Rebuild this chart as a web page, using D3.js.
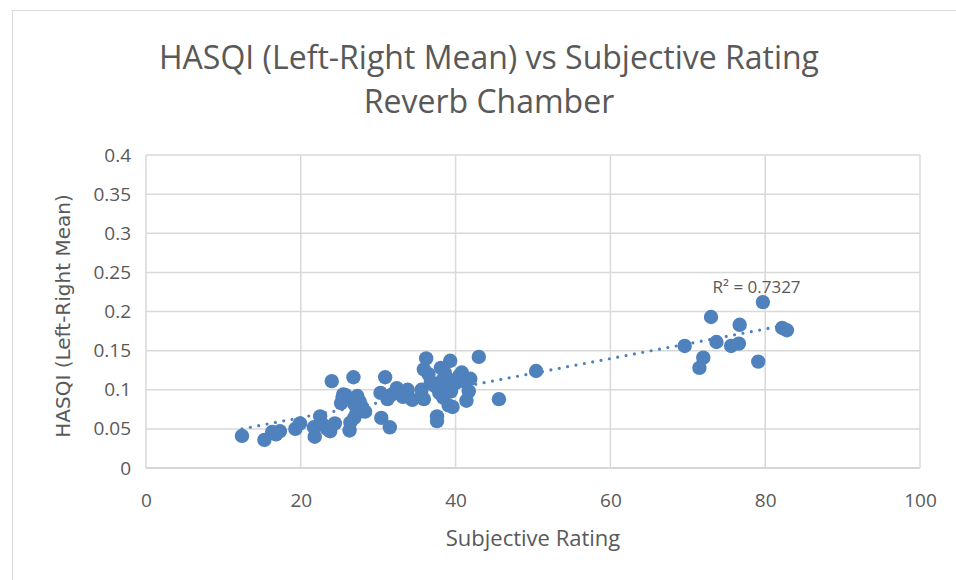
<!DOCTYPE html>
<html>
<head>
<meta charset="utf-8">
<script src="https://cdn.jsdelivr.net/npm/d3@7"></script>
<style>
  body { margin: 0; background: #fff; }
  text { font-family: "Open Sans", "Noto Sans", sans-serif; fill: #595959; }
</style>
</head>
<body>
<div id="canvas"></div>
<script>
"use strict";

let svgWidth = 956;
let svgHeight = 580;
let margin = { top: 155, right: 36, bottom: 112, left: 146 };

// subjective rating (x) and HASQI left-right mean (y)
let rating = [
  12.4, 15.3, 16.3, 16.8, 17.3, 19.3, 19.9, 21.8, 21.7, 22.5,
  22.9, 23.4, 23.8, 24.4, 24.0, 26.8, 26.3, 26.4, 25.2, 25.4,
  25.8, 26.5, 26.9, 27.3, 27.6, 27.9, 27.2, 27.6, 28.3, 26.9,
  25.5,
  30.4, 31.5, 30.9, 30.3, 31.2, 31.8, 32.4, 32.9, 33.8, 34.4,
  33.2, 36.2, 35.9, 36.5, 35.6, 35.9, 36.8, 37.3, 37.6, 37.6,
  38.1, 38.6, 38.9, 39.3, 38.3, 37.9, 38.4, 39.1, 39.6, 38.8,
  39.9, 40.5, 40.8, 41.2, 41.7, 41.4, 41.9, 39.4, 43.0, 45.6,
  50.4,
  69.6, 73.0, 72.0, 71.5, 73.7, 75.6, 76.6, 76.7, 79.1, 79.7,
  82.2, 82.8
];
let hasqi = [
  0.041, 0.036, 0.046, 0.043, 0.047, 0.050, 0.057, 0.040, 0.052, 0.066,
  0.055, 0.050, 0.047, 0.057, 0.111, 0.116, 0.048, 0.058, 0.083, 0.090,
  0.093, 0.088, 0.082, 0.092, 0.085, 0.078, 0.070, 0.076, 0.072, 0.064,
  0.094,
  0.064, 0.052, 0.116, 0.096, 0.088, 0.094, 0.102, 0.096, 0.100, 0.087,
  0.091, 0.140, 0.126, 0.120, 0.100, 0.088, 0.110, 0.105, 0.066, 0.060,
  0.128, 0.122, 0.115, 0.137, 0.112, 0.096, 0.090, 0.080, 0.078, 0.100,
  0.108, 0.118, 0.122, 0.110, 0.098, 0.086, 0.114, 0.098, 0.142, 0.088,
  0.124,
  0.156, 0.193, 0.141, 0.128, 0.161, 0.156, 0.159, 0.183, 0.136, 0.212,
  0.179, 0.176
];

let xTicks = [0, 20, 40, 60, 80, 100];
let yTicks = [0, 0.05, 0.1, 0.15, 0.2, 0.25, 0.3, 0.35, 0.4];
let r2Label = "R² = 0.7327";

let points = rating.map(function(d, i) { return { x: d, y: hasqi[i] }; });

let svg = d3.select("#canvas")
  .append("svg")
  .attr("width", svgWidth)
  .attr("height", svgHeight);

// chart frame
svg.append("rect")
  .attr("x", 12.5)
  .attr("y", 10.5)
  .attr("width", svgWidth)
  .attr("height", svgHeight)
  .attr("fill", "#fff")
  .attr("stroke", "#d9d9d9");

let xScale = d3.scaleLinear()
  .domain([0, 100])
  .range([margin.left, svgWidth - margin.right]);

let yScale = d3.scaleLinear()
  .domain([0, 0.4])
  .range([svgHeight - margin.bottom, margin.top]);

// gridlines
svg.append("g")
  .selectAll("line.h")
  .data(yTicks)
  .enter()
  .append("line")
  .attr("x1", xScale(0))
  .attr("x2", xScale(100))
  .attr("y1", function(d) { return yScale(d); })
  .attr("y2", function(d) { return yScale(d); })
  .attr("stroke", function(d) { return d === 0 ? "#c8c8c8" : "#d9d9d9"; })
  .attr("stroke-width", 1.5);

svg.append("g")
  .selectAll("line.v")
  .data(xTicks)
  .enter()
  .append("line")
  .attr("y1", yScale(0))
  .attr("y2", yScale(0.4))
  .attr("x1", function(d) { return xScale(d); })
  .attr("x2", function(d) { return xScale(d); })
  .attr("stroke", "#d9d9d9")
  .attr("stroke-width", 1.5);

// tick labels
svg.append("g")
  .attr("transform", "translate(0," + (yScale(0) + 25) + ")")
  .call(d3.axisBottom(xScale).tickValues(xTicks).tickSize(0).tickPadding(0))
  .call(function(g) { g.select(".domain").remove(); })
  .selectAll("text")
  .style("font-size", "19px")
  .attr("dy", "0.71em")
  .attr("fill", "#595959");

svg.append("g")
  .attr("transform", "translate(" + (xScale(0) - 15) + ",0)")
  .call(d3.axisLeft(yScale).tickValues(yTicks).tickSize(0).tickPadding(0)
    .tickFormat(function(d) { return String(+d.toFixed(2)); }))
  .call(function(g) { g.select(".domain").remove(); })
  .selectAll("text")
  .style("font-size", "19px")
  .attr("fill", "#595959");

// linear trendline from least squares
let mx = d3.mean(points, function(d) { return d.x; });
let my = d3.mean(points, function(d) { return d.y; });
let sxy = d3.sum(points, function(d) { return (d.x - mx) * (d.y - my); });
let sxx = d3.sum(points, function(d) { return (d.x - mx) * (d.x - mx); });
let slope = sxy / sxx;
let intercept = my - slope * mx;
let xExt = d3.extent(points, function(d) { return d.x; });

svg.append("line")
  .attr("x1", xScale(xExt[0]))
  .attr("x2", xScale(xExt[1]))
  .attr("y1", yScale(intercept + slope * xExt[0]))
  .attr("y2", yScale(intercept + slope * xExt[1]))
  .attr("stroke", "#4f81bd")
  .attr("stroke-width", 3.2)
  .attr("stroke-linecap", "round")
  .attr("stroke-dasharray", "0 8.5");

// points
svg.append("g")
  .selectAll("circle")
  .data(points)
  .enter()
  .append("circle")
  .attr("cx", function(d) { return xScale(d.x); })
  .attr("cy", function(d) { return yScale(d.y); })
  .attr("r", 7.2)
  .attr("fill", "#4f81bd");

// R² label
svg.append("text")
  .attr("x", xScale(73.2))
  .attr("y", yScale(0.224))
  .style("font-size", "17px")
  .text(r2Label);

// titles
svg.append("text")
  .attr("x", 489)
  .attr("y", 69)
  .attr("text-anchor", "middle")
  .style("font-size", "32px")
  .text("HASQI (Left-Right Mean) vs Subjective Rating");

svg.append("text")
  .attr("x", 489)
  .attr("y", 113)
  .attr("text-anchor", "middle")
  .style("font-size", "32px")
  .text("Reverb Chamber");

svg.append("text")
  .attr("x", (xScale(0) + xScale(100)) / 2)
  .attr("y", 546)
  .attr("text-anchor", "middle")
  .style("font-size", "22px")
  .text("Subjective Rating");

svg.append("text")
  .attr("transform", "translate(70,316) rotate(-90)")
  .attr("text-anchor", "middle")
  .style("font-family", "'DejaVu Sans', sans-serif")
  .style("font-size", "20px")
  .text("HASQI (Left-Right Mean)");
</script>
</body>
</html>
